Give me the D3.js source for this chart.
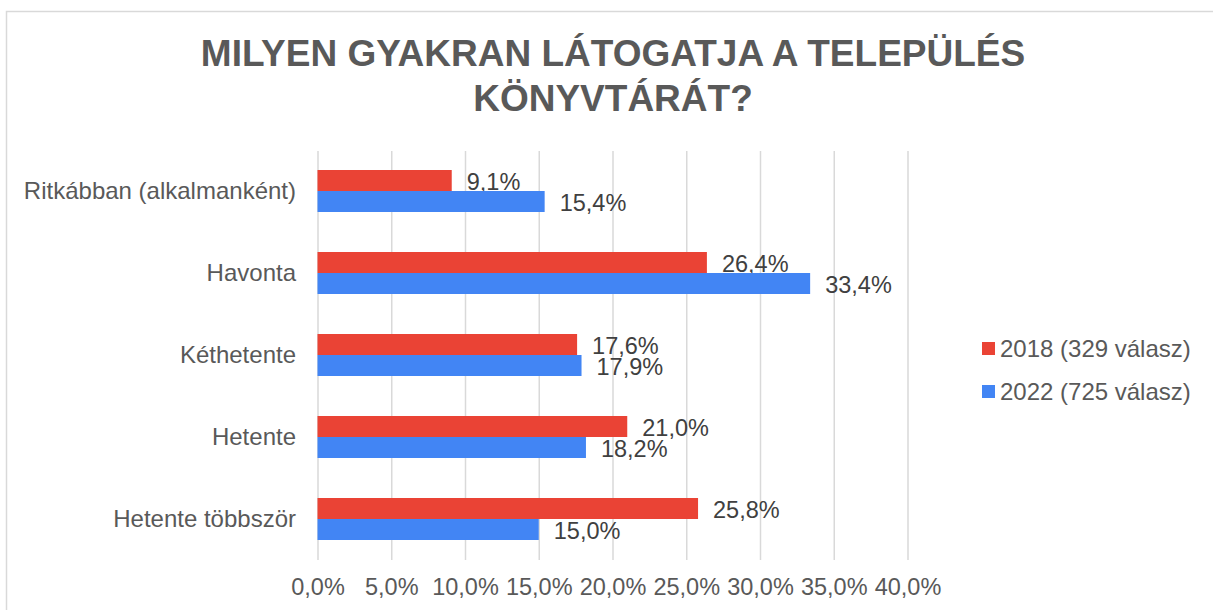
<!DOCTYPE html>
<html>
<head>
<meta charset="utf-8">
<script src="https://cdn.jsdelivr.net/npm/d3@7"></script>
<style>
  html, body { margin: 0; padding: 0; background: #fff; }
  svg { display: block; font-family: Arial, "Liberation Sans", sans-serif; }
</style>
</head>
<body>
<svg id="chart" width="1213" height="610"></svg>
<script>
const titleLines = ["MILYEN GYAKRAN LÁTOGATJA A TELEPÜLÉS", "KÖNYVTÁRÁT?"];
const categories = ["Ritkábban (alkalmanként)", "Havonta", "Kéthetente", "Hetente", "Hetente többször"];
const values2018 = [9.1, 26.4, 17.6, 21.0, 25.8];
const values2022 = [15.4, 33.4, 17.9, 18.2, 15.0];
const seriesNames = ["2018 (329 válasz)", "2022 (725 válasz)"];
const tickValues = [0, 5, 10, 15, 20, 25, 30, 35, 40];

const colors = ["#EA4335", "#4285F4"];
const svg = d3.select("#chart");

const loc = d3.formatLocale({decimal: ",", thousands: " ", grouping: [3], currency: ["", ""]});
const fmt = v => loc.format(".1f")(v) + "%";

// frame
svg.append("rect")
  .attr("x", 6.5).attr("y", 11.5)
  .attr("width", 1214).attr("height", 620)
  .attr("fill", "none").attr("stroke", "#d9d9d9").attr("stroke-width", 1.5);

// title
svg.append("g").selectAll("text").data(titleLines).join("text")
  .attr("x", 613).attr("y", (d, i) => 66 + i * 45)
  .attr("text-anchor", "middle")
  .attr("font-size", 37).attr("font-weight", "bold")
  .attr("fill", "#595959")
  .text(d => d);

const x = d3.scaleLinear().domain([0, 40]).range([317.5, 907.5]);
const y = d3.scaleBand().domain(categories).range([150, 560])
  .paddingInner(0.4878).paddingOuter(0.2439);
const sub = d3.scaleBand().domain([0, 1]).range([0, y.bandwidth()]);

// x axis with gridlines
const xAxis = svg.append("g").attr("transform", "translate(0,560)")
  .call(d3.axisBottom(x).tickValues(tickValues).tickFormat(fmt).tickSize(-409).tickPadding(0));
xAxis.select(".domain").remove();
xAxis.selectAll(".tick line").attr("stroke", "#d9d9d9").attr("stroke-width", 1.5);
xAxis.selectAll(".tick text")
  .attr("y", 35).attr("dy", 0)
  .attr("font-size", 23.5).attr("fill", "#595959")
  .attr("font-family", "Arial, 'Liberation Sans', sans-serif");

// y axis labels
const yAxis = svg.append("g").attr("transform", "translate(317.5,0)")
  .call(d3.axisLeft(y).tickSize(0).tickPadding(21.5));
yAxis.select(".domain").remove();
yAxis.selectAll(".tick text")
  .attr("font-size", 24).attr("fill", "#595959")
  .attr("font-family", "Arial, 'Liberation Sans', sans-serif");

const series = [values2018, values2022];
series.forEach((vals, si) => {
  const g = svg.append("g");
  g.selectAll("rect").data(vals).join("rect")
    .attr("x", x(0))
    .attr("y", (d, i) => y(categories[i]) + sub(si))
    .attr("width", d => x(d) - x(0))
    .attr("height", sub.bandwidth())
    .attr("fill", colors[si]);
  g.selectAll("text").data(vals).join("text")
    .attr("x", d => x(d) + 15)
    .attr("y", (d, i) => y(categories[i]) + sub(si) + sub.bandwidth() / 2 + 1)
    .attr("dy", "0.35em")
    .attr("font-size", 23.5).attr("fill", "#404040")
    .text(d => fmt(d));
});

// legend
const leg = svg.append("g").selectAll("g").data(seriesNames).join("g")
  .attr("transform", (d, i) => `translate(982,${348.5 + i * 43})`);
leg.append("rect").attr("x", 0).attr("y", -6.5).attr("width", 13).attr("height", 13)
  .attr("fill", (d, i) => colors[i]);
leg.append("text").attr("x", 18).attr("y", 0).attr("dy", "0.35em")
  .attr("font-size", 24).attr("fill", "#595959").text(d => d);
</script>
</body>
</html>
